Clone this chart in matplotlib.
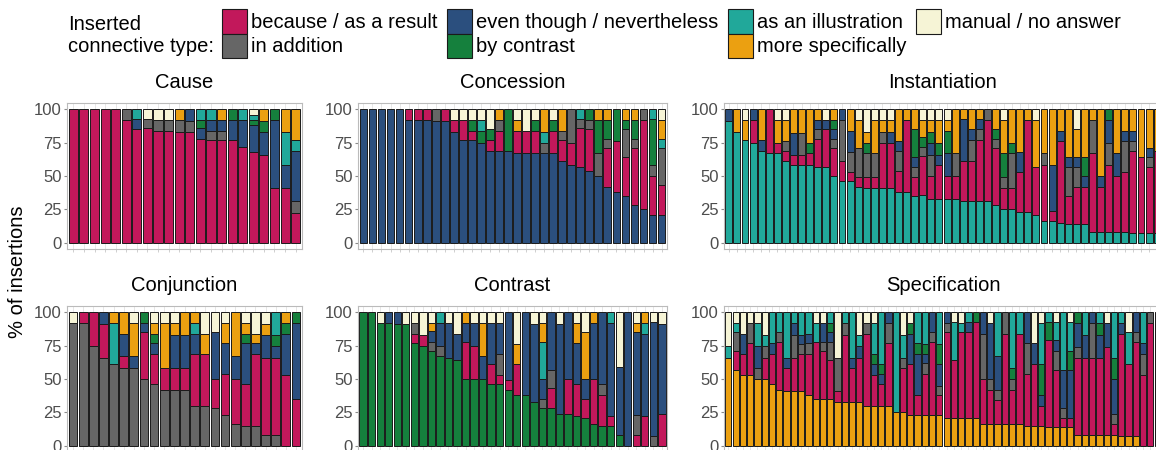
import numpy as np
import matplotlib.pyplot as plt
from matplotlib.patches import Patch

plt.rcParams['font.family'] = ['Liberation Sans', 'DejaVu Sans']

# connective types in legend order, and their fill colours
types = ['because / as a result', 'in addition', 'even though / nevertheless',
         'by contrast', 'as an illustration', 'more specifically', 'manual / no answer']
colors = ['#C2185B', '#666666', '#2B4F7E', '#15803D', '#21A89A', '#EBA011', '#F6F4D6']

# one tuple per item: % of insertions for each type (same order as `types`)
cause = [
    (100, 0, 0, 0, 0, 0, 0), (100, 0, 0, 0, 0, 0, 0), (100, 0, 0, 0, 0, 0, 0),
    (100, 0, 0, 0, 0, 0, 0), (100, 0, 0, 0, 0, 0, 0), (92, 8, 0, 0, 0, 0, 0),
    (85, 0, 8, 0, 7, 0, 0), (86, 7, 0, 0, 0, 0, 7), (84, 8, 0, 0, 0, 0, 8),
    (84, 8, 0, 0, 0, 0, 8), (83, 9, 0, 0, 0, 8, 0), (83, 8, 9, 0, 0, 0, 0),
    (78, 0, 8, 6, 8, 0, 0), (77, 7, 8, 0, 8, 0, 0), (77, 7, 8, 0, 0, 8, 0),
    (77, 0, 15, 8, 0, 0, 0), (72, 0, 20, 0, 8, 0, 0), (68, 0, 20, 4, 4, 0, 4),
    (66, 0, 17, 8, 0, 9, 0), (41, 0, 51, 8, 0, 0, 0), (41, 0, 17, 0, 25, 17, 0),
    (22, 9, 38, 0, 8, 23, 0),
]

concession = [
    (0, 0, 100, 0, 0, 0, 0), (0, 0, 100, 0, 0, 0, 0), (0, 0, 100, 0, 0, 0, 0),
    (0, 0, 100, 0, 0, 0, 0), (0, 0, 100, 0, 0, 0, 0), (8, 0, 92, 0, 0, 0, 0),
    (8, 0, 92, 0, 0, 0, 0), (8, 0, 92, 0, 0, 0, 0), (0, 9, 91, 0, 0, 0, 0),
    (9, 0, 91, 0, 0, 0, 0), (9, 0, 83, 0, 0, 0, 8), (15, 0, 77, 0, 0, 0, 8),
    (7, 0, 77, 8, 0, 0, 8), (0, 0, 75, 9, 8, 0, 8), (8, 0, 69, 8, 0, 0, 15),
    (15, 8, 69, 0, 0, 8, 0), (0, 0, 69, 31, 0, 0, 0), (17, 0, 67, 0, 0, 8, 8),
    (17, 0, 67, 0, 0, 0, 16), (17, 0, 67, 8, 0, 0, 8), (0, 8, 67, 0, 8, 17, 0),
    (17, 0, 67, 8, 0, 0, 8), (16, 7, 61, 0, 0, 16, 0), (17, 25, 58, 0, 0, 0, 0),
    (29, 7, 57, 0, 7, 0, 0), (31, 7, 54, 8, 0, 0, 0), (0, 17, 50, 25, 0, 8, 0),
    (29, 7, 42, 14, 0, 8, 0), (38, 0, 38, 24, 0, 0, 0), (29, 21, 35, 7, 0, 8, 0),
    (43, 7, 28, 14, 0, 8, 0), (67, 8, 25, 0, 0, 0, 0), (29, 8, 21, 35, 7, 0, 0),
    (22, 28, 21, 0, 7, 14, 8),
]

instantiation = [
    (0, 0, 9, 0, 91, 0, 0), (0, 0, 0, 0, 83, 17, 0), (0, 0, 0, 0, 77, 15, 8),
    (17, 0, 8, 0, 75, 0, 0), (0, 0, 8, 0, 69, 23, 0), (33, 0, 0, 0, 67, 0, 0),
    (8, 0, 0, 0, 67, 17, 8), (8, 7, 0, 0, 61, 16, 8), (8, 0, 16, 0, 58, 18, 0),
    (8, 16, 0, 0, 58, 18, 0), (9, 0, 0, 8, 58, 25, 0), (21, 7, 7, 0, 57, 8, 0),
    (28, 0, 7, 0, 57, 0, 8), (21, 7, 7, 7, 50, 8, 0), (15, 31, 8, 0, 46, 0, 0),
    (7, 15, 16, 0, 46, 16, 0), (7, 22, 0, 0, 42, 21, 8), (8, 18, 0, 8, 41, 8, 17),
    (8, 18, 0, 0, 41, 25, 8), (34, 8, 0, 0, 41, 9, 8), (34, 0, 8, 0, 41, 9, 8),
    (16, 15, 7, 0, 38, 24, 0), (54, 0, 0, 0, 38, 8, 0), (14, 8, 7, 21, 35, 15, 0),
    (29, 7, 0, 7, 36, 13, 8), (17, 16, 9, 8, 33, 9, 8), (25, 0, 8, 9, 33, 17, 8),
    (17, 0, 17, 17, 33, 8, 8), (17, 17, 0, 0, 33, 33, 0), (30, 0, 32, 0, 31, 7, 0),
    (30, 16, 8, 0, 31, 15, 0), (46, 8, 8, 0, 31, 7, 0), (61, 8, 0, 0, 31, 0, 0),
    (43, 7, 0, 7, 28, 15, 0), (16, 8, 0, 18, 25, 25, 8), (16, 26, 0, 8, 25, 25, 0),
    (30, 0, 15, 0, 23, 32, 0), (69, 0, 0, 0, 23, 8, 0), (36, 0, 0, 0, 21, 35, 8),
    (42, 9, 0, 0, 16, 33, 0), (8, 0, 34, 0, 16, 42, 0), (61, 0, 8, 0, 15, 16, 0),
    (21, 22, 7, 0, 14, 36, 0), (28, 15, 7, 0, 14, 21, 15), (28, 0, 8, 14, 14, 36, 0),
    (59, 25, 0, 0, 8, 8, 0), (34, 0, 8, 0, 8, 50, 0), (50, 17, 17, 8, 8, 0, 0),
    (42, 0, 17, 0, 8, 33, 0), (45, 23, 8, 0, 8, 16, 0), (62, 7, 8, 0, 7, 16, 0),
    (57, 0, 0, 0, 7, 36, 0), (50, 7, 7, 0, 7, 29, 0), (62, 0, 0, 0, 7, 31, 0),
]

conjunction = [
    (0, 92, 0, 0, 0, 0, 8), (8, 92, 0, 0, 0, 0, 0), (25, 75, 0, 0, 0, 0, 0),
    (25, 66, 9, 0, 0, 0, 0), (0, 61, 0, 0, 31, 8, 0), (9, 58, 17, 0, 0, 16, 0),
    (0, 58, 9, 0, 0, 25, 8), (35, 50, 7, 8, 0, 0, 0), (23, 46, 8, 7, 0, 8, 8),
    (16, 42, 0, 0, 0, 34, 8), (16, 42, 25, 0, 0, 9, 8), (16, 42, 25, 0, 0, 17, 0),
    (39, 30, 15, 0, 8, 8, 0), (39, 30, 0, 0, 0, 15, 16), (22, 28, 35, 0, 0, 0, 15),
    (31, 23, 23, 0, 0, 15, 8), (34, 16, 17, 0, 0, 33, 0), (31, 15, 31, 7, 0, 8, 8),
    (54, 15, 8, 0, 0, 7, 16), (58, 8, 17, 0, 0, 8, 9), (58, 8, 9, 8, 17, 0, 0),
    (53, 0, 31, 8, 0, 8, 0), (35, 0, 57, 8, 0, 0, 0),
]

contrast = [
    (0, 0, 0, 100, 0, 0, 0), (0, 0, 0, 100, 0, 0, 0), (0, 0, 0, 92, 0, 0, 8),
    (0, 0, 8, 92, 0, 0, 0), (0, 0, 9, 91, 0, 0, 0), (0, 0, 0, 91, 0, 0, 9),
    (7, 8, 0, 77, 0, 0, 8), (8, 0, 0, 75, 0, 0, 17), (0, 7, 8, 71, 0, 6, 8),
    (0, 8, 17, 67, 8, 0, 0), (0, 0, 26, 66, 0, 0, 8), (0, 0, 20, 64, 0, 0, 16),
    (28, 0, 14, 50, 0, 8, 0), (25, 0, 17, 50, 0, 0, 8), (0, 0, 17, 50, 0, 25, 8),
    (15, 0, 31, 46, 0, 0, 8), (7, 16, 23, 46, 0, 0, 8), (7, 0, 51, 42, 0, 0, 0),
    (23, 0, 0, 38, 0, 15, 24), (0, 0, 62, 38, 0, 0, 0), (0, 0, 58, 33, 0, 0, 9),
    (0, 7, 15, 28, 28, 14, 8), (15, 14, 43, 28, 0, 0, 0), (0, 0, 67, 24, 0, 0, 9),
    (26, 0, 50, 24, 0, 0, 0), (24, 0, 31, 22, 0, 15, 8), (14, 0, 15, 21, 0, 35, 15),
    (34, 0, 42, 16, 0, 8, 0), (23, 8, 54, 15, 0, 0, 0), (7, 0, 70, 15, 8, 0, 0),
    (0, 0, 51, 8, 0, 0, 41), (0, 0, 100, 0, 0, 0, 0), (8, 15, 62, 0, 0, 7, 8),
    (22, 0, 62, 0, 8, 8, 0), (0, 7, 86, 0, 0, 0, 7), (24, 0, 67, 0, 0, 0, 9),
]

specification = [
    (0, 0, 0, 0, 9, 66, 25), (14, 14, 0, 0, 7, 57, 8), (16, 0, 15, 0, 0, 53, 16),
    (24, 15, 0, 0, 0, 53, 8), (0, 8, 17, 0, 17, 50, 8), (16, 9, 0, 0, 8, 50, 17),
    (23, 0, 8, 0, 23, 46, 0), (36, 7, 0, 0, 15, 42, 0), (17, 0, 8, 0, 34, 41, 0),
    (25, 17, 9, 0, 8, 41, 0), (28, 7, 7, 0, 17, 41, 0), (31, 8, 7, 0, 16, 38, 0),
    (43, 0, 0, 0, 14, 35, 8), (36, 7, 14, 0, 0, 35, 8), (29, 14, 7, 7, 8, 35, 0),
    (8, 25, 0, 0, 0, 33, 34), (50, 9, 0, 0, 8, 33, 0), (25, 0, 8, 0, 34, 33, 0),
    (33, 0, 9, 0, 8, 33, 17), (54, 8, 0, 0, 0, 30, 8), (23, 0, 8, 8, 23, 30, 8),
    (16, 0, 8, 7, 39, 30, 0), (47, 15, 8, 0, 0, 30, 0), (0, 0, 0, 0, 75, 25, 0),
    (33, 8, 0, 0, 17, 25, 17), (38, 0, 23, 8, 0, 23, 8), (15, 0, 31, 8, 23, 23, 0),
    (31, 8, 7, 7, 24, 23, 0), (55, 7, 15, 0, 0, 23, 0), (15, 7, 16, 15, 24, 23, 0),
    (64, 7, 8, 0, 0, 21, 0), (43, 0, 0, 0, 29, 21, 7), (64, 0, 0, 0, 7, 21, 8),
    (64, 0, 8, 0, 7, 21, 0), (72, 0, 0, 7, 0, 21, 0), (34, 34, 16, 0, 0, 16, 0),
    (26, 8, 42, 0, 0, 16, 8), (18, 8, 25, 0, 33, 16, 0), (68, 16, 0, 0, 0, 16, 0),
    (26, 8, 0, 8, 42, 16, 0), (68, 0, 0, 0, 16, 16, 0), (39, 23, 23, 0, 0, 15, 0),
    (46, 0, 16, 0, 0, 15, 23), (15, 0, 8, 23, 31, 15, 8), (65, 0, 0, 14, 7, 14, 0),
    (43, 14, 8, 0, 14, 14, 7), (7, 7, 29, 0, 43, 14, 0), (7, 0, 36, 14, 22, 14, 7),
    (58, 8, 18, 8, 0, 8, 0), (58, 0, 17, 0, 17, 8, 0), (58, 26, 8, 0, 0, 8, 0),
    (58, 0, 17, 9, 8, 8, 0), (66, 0, 18, 0, 0, 8, 8), (8, 8, 26, 16, 34, 8, 0),
    (77, 0, 8, 0, 8, 7, 0), (54, 0, 0, 0, 24, 7, 15), (71, 7, 15, 0, 0, 7, 0),
    (53, 16, 8, 0, 23, 0, 0), (92, 8, 0, 0, 0, 0, 0), (100, 0, 0, 0, 0, 0, 0),
]

# (title, data, index of the type stacked at the bottom, column, row)
panels = [
    ('Cause', cause, 0, 0, 0),
    ('Concession', concession, 2, 1, 0),
    ('Instantiation', instantiation, 4, 2, 0),
    ('Conjunction', conjunction, 1, 0, 1),
    ('Contrast', contrast, 3, 1, 1),
    ('Specification', specification, 5, 2, 1),
]

W, H = 1156, 450
fig = plt.figure(figsize=(W / 100, H / 100), dpi=100)

# panel extents in pixels (right column runs past the crop edge)
col_px = [(67, 302), (358, 667), (724, 1162)]
row_px = [(102.6, 249.5), (305.6, 452.5)]

for title, data, base_k, c, r in panels:
    x0, x1 = col_px[c]
    y0, y1 = row_px[r]
    ax = fig.add_axes([x0 / W, 1 - y1 / H, (x1 - x0) / W, (y1 - y0) / H])
    vals = np.array(data, dtype=float).T
    n = vals.shape[1]
    x = np.arange(n)
    order = [base_k] + [k for k in range(len(types)) if k != base_k]
    bottom = np.zeros(n)
    for k in order:
        v = vals[k]
        m = v > 0
        ax.bar(x[m], v[m], bottom=bottom[m], width=0.86, color=colors[k],
               edgecolor='#1a1a1a', linewidth=0.7, zorder=2)
        bottom += v

    ax.set_xlim(-0.6, n - 0.4)
    ax.set_ylim(-5, 105)
    ax.set_xticks(x)
    ax.set_xticklabels([])
    ax.set_yticks([0, 25, 50, 75, 100])
    ax.tick_params(axis='y', labelsize=12, labelcolor='#4D4D4D', color='#8a8a8a',
                   length=2.5, width=0.8, pad=1.5)
    ax.tick_params(axis='x', color='#c8c8c8', length=2.5, width=0.6)
    ax.grid(axis='x', color='#e3e3e3', linewidth=0.6)
    ax.set_axisbelow(True)
    for s in ax.spines.values():
        s.set_color('#BBBBBB')
        s.set_linewidth(0.8)
    ax.set_title(title, fontsize=14.5, pad=10.5)

fig.text(18 / W, 1 - 272 / H, '% of insertions', rotation=90, ha='center',
         va='center', fontsize=14.5)

fig.text(68 / W, 1 - 35 / H, 'Inserted\nconnective type:', ha='left', va='center',
         fontsize=14.5, linespacing=1.2)
handles = [Patch(facecolor=col, edgecolor='#1a1a1a', linewidth=0.8, label=t)
           for t, col in zip(types, colors)]
fig.legend(handles=handles, loc='upper left', bbox_to_anchor=(222 / W, 1 - 9.5 / H),
           ncol=4, frameon=False, fontsize=14.5, handlelength=1.22, handleheight=1.46,
           handletextpad=0.2, columnspacing=0.5, labelspacing=0.0, borderpad=0,
           borderaxespad=0)

fig.savefig('out.png', dpi=100)
